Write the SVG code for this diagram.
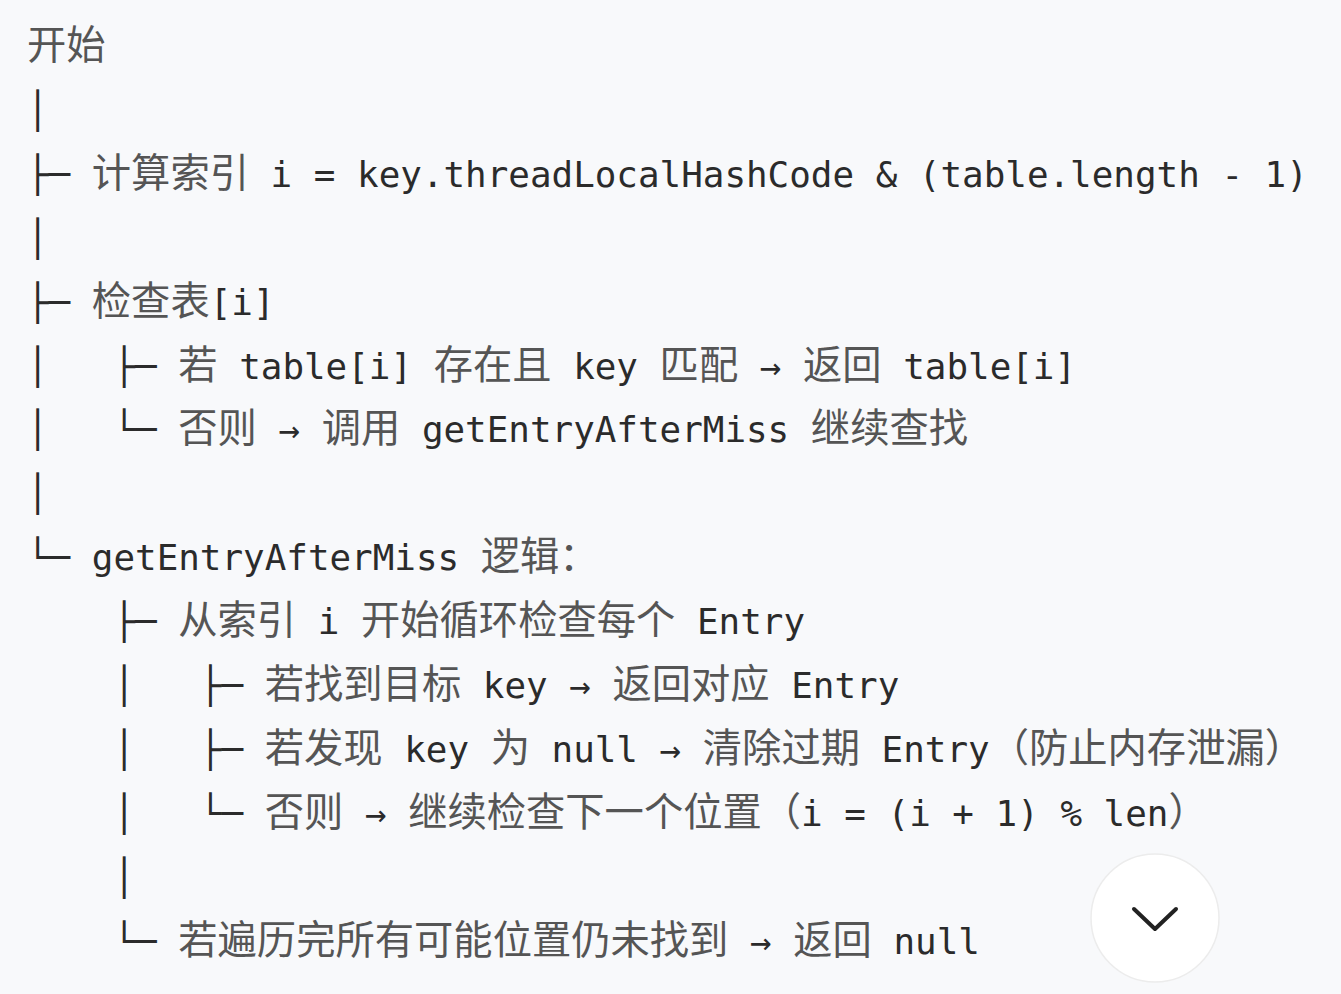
<svg xmlns="http://www.w3.org/2000/svg" width="1341" height="994" viewBox="0 0 1341 994">
<style>
.t{font-family:"DejaVu Sans Mono","Liberation Mono",monospace;font-size:35.9px;fill:#2b2b2b;white-space:pre}
.c{font-family:"Noto Sans CJK SC","Noto Sans CJK JP",sans-serif;font-size:39.3px;fill:#555555}
</style>
<rect width="1341" height="994" fill="#f8f9fb"/>
<g id="tree">
<text class="t" xml:space="preserve" x="27" y="59"><tspan class="c">开始</tspan></text>
<text class="t" xml:space="preserve" x="27" y="123">│</text>
<text class="t" xml:space="preserve" x="27" y="187">├─ <tspan class="c">计算索引</tspan> i = key.threadLocalHashCode &amp; (table.length - 1)</text>
<text class="t" xml:space="preserve" x="27" y="251">│</text>
<text class="t" xml:space="preserve" x="27" y="315">├─ <tspan class="c">检查表</tspan>[i]</text>
<text class="t" xml:space="preserve" x="27" y="379">│   ├─ <tspan class="c">若</tspan> table[i] <tspan class="c">存在且</tspan> key <tspan class="c">匹配</tspan> → <tspan class="c">返回</tspan> table[i]</text>
<text class="t" xml:space="preserve" x="27" y="442">│   └─ <tspan class="c">否则</tspan> → <tspan class="c">调用</tspan> getEntryAfterMiss <tspan class="c">继续查找</tspan></text>
<text class="t" xml:space="preserve" x="27" y="506">│</text>
<text class="t" xml:space="preserve" x="27" y="570">└─ getEntryAfterMiss <tspan class="c">逻辑：</tspan></text>
<text class="t" xml:space="preserve" x="27" y="634">    ├─ <tspan class="c">从索引</tspan> i <tspan class="c">开始循环检查每个</tspan> Entry</text>
<text class="t" xml:space="preserve" x="27" y="698">    │   ├─ <tspan class="c">若找到目标</tspan> key → <tspan class="c">返回对应</tspan> Entry</text>
<text class="t" xml:space="preserve" x="27" y="762">    │   ├─ <tspan class="c">若发现</tspan> key <tspan class="c">为</tspan> null → <tspan class="c">清除过期</tspan> Entry<tspan class="c">（防止内存泄漏）</tspan></text>
<text class="t" xml:space="preserve" x="27" y="826">    │   └─ <tspan class="c">否则</tspan> → <tspan class="c">继续检查下一个位置（</tspan>i = (i + 1) % len<tspan class="c">）</tspan></text>
<text class="t" xml:space="preserve" x="27" y="890">    │</text>
<text class="t" xml:space="preserve" x="27" y="954">    └─ <tspan class="c">若遍历完所有可能位置仍未找到</tspan> → <tspan class="c">返回</tspan> null</text>
</g>
<g id="scroll-button">
<circle cx="1155" cy="918" r="64" fill="#ffffff" stroke="#ececec" stroke-width="1.5"/>
<polyline points="1134,909 1155,929 1176,909" fill="none" stroke="#222" stroke-width="4" stroke-linecap="round" stroke-linejoin="round"/>
</g>
</svg>
